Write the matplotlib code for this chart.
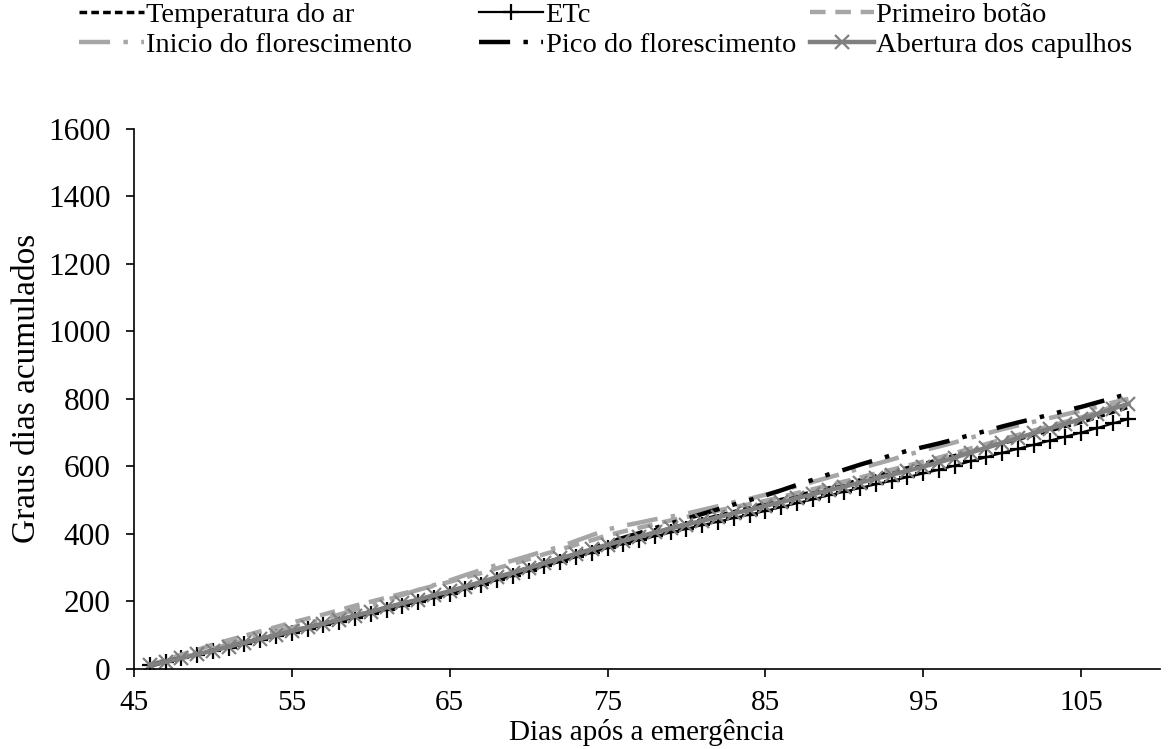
import matplotlib
matplotlib.use("Agg")
import matplotlib.pyplot as plt

plt.rcParams['font.family'] = ['Liberation Serif', 'DejaVu Serif']

# dias após a emergência
dias = list(range(46, 109))

temp_ar = [10, 21, 32, 44, 55, 66, 78, 89, 101, 112, 124, 135, 147, 158, 170, 182, 193, 205, 216, 228,
           242, 255, 269, 283, 297, 310, 324, 338, 351, 365, 378, 391, 404, 417, 430, 442, 454, 466, 478, 490,
           502, 513, 525, 536, 548, 560, 572, 584, 596, 608, 620, 632, 644, 656, 668, 680, 693, 705, 718, 730,
           745, 760, 775]
etc = [10, 20, 31, 41, 52, 63, 74, 85, 96, 107, 118, 129, 140, 152, 163, 175, 187, 198, 210, 222,
       236, 249, 263, 276, 290, 304, 317, 331, 344, 358, 370, 381, 393, 404, 415, 426, 436, 447, 457, 468,
       479, 491, 502, 514, 525, 536, 547, 557, 568, 579, 590, 602, 615, 627, 640, 652, 664, 676, 688, 700,
       713, 727, 740]
primeiro_botao = [12, 26, 42, 56, 72, 85, 98, 111, 124, 137, 149, 161, 174, 187, 199, 211, 223, 234, 246, 258,
                  271, 284, 298, 311, 325, 340, 353, 368, 381, 396, 407, 418, 429, 440, 450, 460, 469, 479, 488, 498,
                  509, 521, 532, 544, 555, 567, 579, 590, 602, 614, 626, 639, 653, 666, 680, 693, 706, 719, 732, 745,
                  760, 777, 792]
inicio_flor = [11, 23, 35, 47, 60, 72, 85, 97, 110, 122, 135, 148, 161, 175, 188, 204, 219, 234, 248, 262,
               278, 293, 308, 321, 335, 349, 362, 379, 396, 413, 424, 433, 443, 451, 460, 471, 482, 494, 504, 516,
               528, 541, 554, 567, 580, 594, 607, 620, 634, 647, 659, 671, 685, 697, 710, 721, 732, 743, 754, 765,
               776, 789, 800]
pico_flor = [10, 21, 32, 43, 54, 65, 77, 88, 99, 111, 122, 133, 144, 157, 168, 180, 192, 203, 216, 228,
             242, 256, 270, 284, 298, 313, 327, 342, 357, 373, 388, 402, 417, 431, 445, 459, 473, 487, 500, 514,
             529, 545, 560, 576, 590, 605, 619, 633, 646, 657, 668, 680, 693, 705, 718, 730, 741, 753, 765, 776,
             789, 802, 815]
abertura = [10, 21, 32, 43, 54, 66, 77, 89, 100, 112, 123, 134, 146, 158, 169, 182, 194, 205, 218, 230,
            244, 257, 272, 285, 299, 313, 327, 341, 354, 368, 380, 392, 404, 416, 427, 439, 449, 461, 471, 483,
            494, 506, 517, 529, 540, 552, 564, 575, 587, 599, 612, 626, 641, 655, 670, 684, 698, 712, 726, 740,
            755, 771, 785]

x_ticks = [45, 55, 65, 75, 85, 95, 105]
y_ticks = [0, 200, 400, 600, 800, 1000, 1200, 1400, 1600]

cinza_claro = '#a6a6a6'
cinza = '#808080'

fig = plt.figure(figsize=(11.69, 7.49), dpi=100)
ax = fig.add_axes([0.1146, 0.107, 0.8777, 0.721])

l1, = ax.plot(dias, temp_ar, color='black', lw=2.5, dashes=(2.2, 1.2), label='Temperatura do ar')
l2, = ax.plot(dias, etc, color='black', lw=1.6, marker='+', ms=12, mew=1.6, label='ETc')
l3, = ax.plot(dias, primeiro_botao, color=cinza_claro, lw=3.2, dashes=(3.5, 2.2), label='Primeiro botão')
l4, = ax.plot(dias, inicio_flor, color=cinza_claro, lw=3.2, dashes=(7, 3, 1, 3), label='Inicio do florescimento')
l5, = ax.plot(dias, pico_flor, color='black', lw=3.2, dashes=(7, 3, 1, 3, 1, 3), label='Pico do florescimento')
l6, = ax.plot(dias, abertura, color=cinza, lw=3.2, marker='x', ms=10, mew=1.6, label='Abertura dos capulhos')

ax.set_xlim(45, 110)
ax.set_ylim(0, 1600)
ax.set_xticks(x_ticks)
ax.set_yticks(y_ticks)
ax.tick_params(axis='both', direction='out', length=6, width=1.2, colors='black')
ax.tick_params(axis='x', labelsize=21, pad=9)
ax.tick_params(axis='y', labelsize=22.5, pad=11)
for s in ['top', 'right']:
    ax.spines[s].set_visible(False)
for s in ['left', 'bottom']:
    ax.spines[s].set_linewidth(1.2)

ax.set_ylabel('Graus dias acumulados', fontsize=24)
ax.yaxis.set_label_coords(-0.09, 0.52)
ax.set_xlabel('Dias após a emergência', fontsize=21)
ax.xaxis.set_label_coords(0.5, -0.093)
ax.xaxis.label.set_va('top')

# legenda em três colunas posicionadas separadamente
colunas = [([l1, l4], 0.068), ([l2, l5], 0.41), ([l3, l6], 0.693)]
for hs, xpos in colunas:
    leg = fig.legend(hs, [h.get_label() for h in hs], loc='upper left',
                     bbox_to_anchor=(xpos, 0.997), frameon=False, fontsize=20.5,
                     handlelength=2.25, handletextpad=0.08, labelspacing=0.15,
                     borderpad=0, borderaxespad=0)

fig.savefig('out.png', dpi=100)
